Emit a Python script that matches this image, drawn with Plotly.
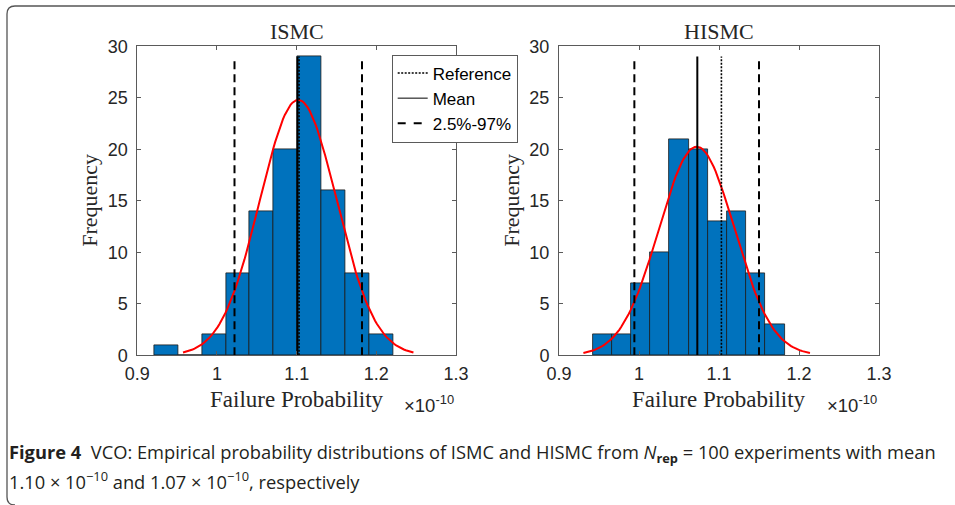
import numpy as np
import plotly.graph_objects as go

# ---------------- data ----------------
panel_titles = ["ISMC", "HISMC"]

ismc_bin_edges = [0.9213, 0.9513, 0.9812, 1.0112, 1.0411, 1.0711, 1.1010, 1.1310, 1.1610, 1.1910, 1.2210]
ismc_counts = [1, 0, 2, 8, 14, 20, 29, 16, 8, 2]
hismc_bin_edges = [0.9425, 0.9667, 0.9904, 1.0141, 1.0379, 1.0621, 1.0859, 1.1096, 1.1341, 1.1579, 1.1821]
hismc_counts = [2, 2, 7, 10, 21, 20, 13, 14, 8, 3]

n_rep = 100
ismc_fit_mu, ismc_fit_sigma = 1.102, 0.0482
hismc_fit_mu, hismc_fit_sigma = 1.0721, 0.0472

reference_value = 1.103
ismc_mean = 1.101
hismc_mean = 1.0729
ismc_interval = [1.022, 1.182]
hismc_interval = [0.9942, 1.150]
marker_line_top = 29

x_tick_vals = [0.9, 1.0, 1.1, 1.2, 1.3]
x_tick_text = ["0.9", "1", "1.1", "1.2", "1.3"]
y_tick_vals = [0, 5, 10, 15, 20, 25, 30]
legend_names = ["Reference", "Mean", "2.5%-97%"]

# ---------------- figure ----------------
W, H = 955, 505
fig = go.Figure()

BLUE = "#0072BD"
SANS = "Liberation Sans, Arial, sans-serif"
SERIF = "Liberation Serif, Times New Roman, serif"
AX = "#5a5a5a"
TXT = "#262626"


def fit_curve(mu, sigma, edges):
    bw = float(np.mean(np.diff(edges)))
    xs = np.linspace(mu - 3 * sigma, mu + 3 * sigma, 121)
    ys = n_rep * bw * np.exp(-0.5 * ((xs - mu) / sigma) ** 2) / (sigma * np.sqrt(2 * np.pi))
    return xs, ys


panels = [
    ("x", "y", ismc_bin_edges, ismc_counts, ismc_fit_mu, ismc_fit_sigma, ismc_mean, ismc_interval),
    ("x2", "y2", hismc_bin_edges, hismc_counts, hismc_fit_mu, hismc_fit_sigma, hismc_mean, hismc_interval),
]

for xa, ya, edges, counts, mu, sg, mean_v, interval in panels:
    e = np.array(edges)
    fig.add_trace(go.Bar(
        x=(e[:-1] + e[1:]) / 2, y=counts, width=np.diff(e),
        marker=dict(color=BLUE, line=dict(color="#1a1a1a", width=0.8)),
        xaxis=xa, yaxis=ya, showlegend=False, hoverinfo="skip"))
    xs, ys = fit_curve(mu, sg, edges)
    fig.add_trace(go.Scatter(x=xs, y=ys, mode="lines", line=dict(color="#FF0000", width=2),
                             xaxis=xa, yaxis=ya, showlegend=False, hoverinfo="skip"))
    fig.add_trace(go.Scatter(x=[reference_value, reference_value], y=[0, marker_line_top], mode="lines",
                             line=dict(color="black", width=1.6, dash="2px,1.5px"),
                             xaxis=xa, yaxis=ya, showlegend=False, hoverinfo="skip"))
    fig.add_trace(go.Scatter(x=[mean_v, mean_v], y=[0, marker_line_top], mode="lines",
                             line=dict(color="black", width=2),
                             xaxis=xa, yaxis=ya, showlegend=False, hoverinfo="skip"))
    for v in interval:
        fig.add_trace(go.Scatter(x=[v, v], y=[0, marker_line_top], mode="lines",
                                 line=dict(color="black", width=2, dash="8px,5px"),
                                 xaxis=xa, yaxis=ya, showlegend=False, hoverinfo="skip"))

legend_styles = [dict(color="black", width=1.5, dash="2px,1.5px"),
                 dict(color="black", width=1),
                 dict(color="black", width=2, dash="8px,8px")]
for name, st in zip(legend_names, legend_styles):
    fig.add_trace(go.Scatter(x=[None], y=[None], mode="lines", line=st, name=name,
                             xaxis="x", yaxis="y", showlegend=True))

ydom = [1 - 355.3 / H, 1 - 46.3 / H]
xdom1 = [137.3 / W, 456.0 / W]
xdom2 = [559.0 / W, 879.0 / W]

axis_common = dict(showline=True, linecolor=AX, linewidth=1, mirror="ticks", ticks="inside",
                   ticklen=4, tickcolor=AX, showgrid=False, zeroline=False,
                   tickfont=dict(family=SANS, size=18, color=TXT))

fig.update_layout(
    width=W, height=H, autosize=False, margin=dict(l=0, r=0, t=0, b=0, autoexpand=False),
    paper_bgcolor="white", plot_bgcolor="white",
    bargap=0, showlegend=True,
    xaxis=dict(domain=xdom1, range=[0.9, 1.3], tickvals=x_tick_vals, ticktext=x_tick_text,
               anchor="y", ticklabelstandoff=2, **axis_common),
    yaxis=dict(domain=ydom, range=[0, 30], tickvals=y_tick_vals, anchor="x",
               ticklabelstandoff=5, **axis_common),
    xaxis2=dict(domain=xdom2, range=[0.9, 1.3], tickvals=x_tick_vals, ticktext=x_tick_text,
                anchor="y2", ticklabelstandoff=2, **axis_common),
    yaxis2=dict(domain=ydom, range=[0, 30], tickvals=y_tick_vals, anchor="x2",
                ticklabelstandoff=5, **axis_common),
    legend=dict(x=391.7 / W, y=1 - 54.5 / H, xanchor="left", yanchor="top",
                bgcolor="white", bordercolor=AX, borderwidth=1,
                font=dict(family=SANS, size=17, color="black"), itemwidth=30,
                tracegroupgap=0),
)


def px_x(p):
    return p / W


def px_y(p):
    return 1 - p / H


ann = []
for title, dom in zip(panel_titles, [xdom1, xdom2]):
    cx = (dom[0] + dom[1]) / 2
    ann.append(dict(text=title, x=cx, y=px_y(31), xref="paper", yref="paper", showarrow=False,
                    xanchor="center", yanchor="middle", font=dict(family=SERIF, size=22, color=TXT)))
    ann.append(dict(text="Failure Probability", x=cx, y=px_y(399), xref="paper", yref="paper",
                    showarrow=False, xanchor="center", yanchor="middle",
                    font=dict(family=SERIF, size=23, color=TXT)))
    ann.append(dict(text="×10<sup>-10</sup>", x=dom[1], y=px_y(404), xref="paper", yref="paper",
                    showarrow=False, xanchor="right", yanchor="middle",
                    font=dict(family=SANS, size=18.5, color=TXT)))
for fx in [90, 512]:
    ann.append(dict(text="Frequency", x=px_x(fx), y=(ydom[0] + ydom[1]) / 2, xref="paper", yref="paper",
                    showarrow=False, textangle=-90, xanchor="center", yanchor="middle",
                    font=dict(family=SERIF, size=22, color=TXT)))

cap_font = dict(family="Open Sans, Lato, sans-serif", size=18.3, color="#231f20")
ann.append(dict(text="<b>Figure 4</b>&#160;&#160;VCO: Empirical probability distributions of ISMC and HISMC from "
                     "<i>N</i><sub><b>rep</b></sub> = 100 experiments with mean",
                x=px_x(7), y=px_y(453), xref="paper", yref="paper", showarrow=False,
                xanchor="left", yanchor="middle", font=cap_font))
ann.append(dict(text="1.10 × 10<sup>−10</sup> and 1.07 × 10<sup>−10</sup>, respectively",
                x=px_x(7), y=px_y(480), xref="paper", yref="paper", showarrow=False,
                xanchor="left", yanchor="middle", font=cap_font))
fig.update_layout(annotations=ann)

fx0, fy_top, r = 7 / W, 1 - 6 / H, 8
path = (f"M 1,{fy_top} L {(7 + r) / W},{fy_top} Q {fx0},{fy_top} {fx0},{1 - (6 + r) / H} "
        f"L {fx0},{1 - 497 / H} Q {fx0},{1 - 505 / H} {(7 + r) / W},{1 - 505 / H}")
fig.add_shape(type="path", path=path, xref="paper", yref="paper", line=dict(color="#555555", width=1.3))

post = ("document.documentElement.style.margin='0';document.body.style.margin='0';"
        "document.body.style.padding='0';document.documentElement.style.overflow='hidden';"
        "document.body.style.overflow='hidden';"
        "var gd=document.getElementById('{plot_id}');Plotly.relayout(gd,{width:955,height:505});")

fig.write_html("out.html", post_script=post, config={"responsive": False})
